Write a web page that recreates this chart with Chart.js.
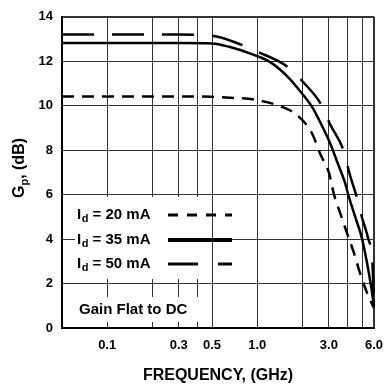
<!DOCTYPE html>
<html>
<head>
<meta charset="utf-8">
<script src="https://cdn.jsdelivr.net/npm/chart.js@4.4.1/dist/chart.umd.min.js"></script>
<style>
  html, body { margin: 0; padding: 0; background: #fff; }
  .wrap { position: relative; width: 386px; height: 385px; }
</style>
</head>
<body>
<div class="wrap"><canvas id="gainChart"></canvas></div>
<script>
// frequency (GHz) and power gain (dB)
const freq20 = [0.05, 0.3, 0.5, 0.7, 0.95, 1.39, 1.84, 2.32, 2.64, 3.0, 3.25, 3.6, 3.95, 4.4, 4.85, 5.45, 6.0];
const gain20 = [10.42, 10.42, 10.4, 10.35, 10.28, 10.0, 9.58, 8.75, 7.8, 7.0, 6.0, 5.1, 4.3, 3.4, 2.45, 1.5, 0.9];

const freq35 = [0.05, 0.3, 0.5, 0.65, 0.94, 1.22, 1.61, 2.0, 2.32, 2.7, 3.08, 3.43, 3.83, 4.1, 4.55, 5.0, 5.7, 6.0];
const gain35 = [12.82, 12.82, 12.8, 12.65, 12.3, 11.96, 11.28, 10.53, 9.95, 9.1, 8.27, 7.43, 6.57, 5.85, 4.9, 4.0, 2.0, 1.0];

const freq50 = [0.05, 0.3, 0.5, 0.78, 1.03, 1.61, 2.0, 2.7, 3.04, 3.8, 4.1, 4.6, 5.0, 5.5, 5.85, 6.0];
const gain50 = [13.2, 13.2, 13.15, 12.75, 12.4, 11.73, 11.1, 10.0, 9.2, 7.9, 7.0, 5.9, 4.95, 4.0, 3.0, 1.0];

const seriesNames = ['20 mA', '35 mA', '50 mA'];

// axis stuff
const gridFreqs = [0.1, 0.2, 0.3, 0.4, 0.5, 1, 2, 3, 4, 5, 6];
const labelFreqs = [0.1, 0.3, 0.5, 1, 3, 6];
const freqLabels = ['0.1', '0.3', '0.5', '1.0', '3.0', '6.0'];

const FONT = '"Liberation Sans", Arial, Helvetica, sans-serif';

function toPoints(xs, ys) {
  return xs.map((x, i) => ({ x: x, y: ys[i] }));
}

// legend box, note and y title drawn by hand (subscripts)
const notes = {
  id: 'notes',
  beforeDatasetsDraw(chart) {
    const ctx = chart.ctx;
    ctx.save();
    ctx.fillStyle = '#fff';
    ctx.fillRect(75, 197, 133, 82);
    ctx.fillRect(75, 297, 133, 25);
    ctx.restore();
  },
  afterDatasetsDraw(chart) {
    const ctx = chart.ctx;
    const rows = [215, 240, 264];
    ctx.save();
    ctx.fillStyle = '#000';
    ctx.strokeStyle = '#000';
    ctx.textBaseline = 'middle';

    chart.data.datasets.forEach((ds, i) => {
      const y = rows[i];
      let x = 77;
      ctx.font = 'bold 15px ' + FONT;
      ctx.fillText('I', x, y);
      x += ctx.measureText('I').width + 0.5;
      ctx.font = 'bold 11px ' + FONT;
      ctx.fillText('d', x, y + 4);
      x += ctx.measureText('d').width;
      ctx.font = 'bold 15px ' + FONT;
      ctx.fillText(' = ' + seriesNames[i], x, y);

      ctx.beginPath();
      ctx.setLineDash(ds.legendDash);
      ctx.lineWidth = ds.legendWidth;
      ctx.moveTo(168, y);
      ctx.lineTo(232, y);
      ctx.stroke();
    });
    ctx.setLineDash([]);

    ctx.font = 'bold 15px ' + FONT;
    ctx.fillText('Gain Flat to DC', 79, 310);

    // G_p, (dB) rotated
    ctx.translate(20, 168);
    ctx.rotate(-Math.PI / 2);
    ctx.font = 'bold 16px ' + FONT;
    const wG = ctx.measureText('G').width;
    const wRest = ctx.measureText(', (dB)').width;
    ctx.font = 'bold 11px ' + FONT;
    const wP = ctx.measureText('p').width;
    let tx = -(wG + wP + wRest) / 2;
    ctx.font = 'bold 16px ' + FONT;
    ctx.fillText('G', tx, 0);
    tx += wG;
    ctx.font = 'bold 11px ' + FONT;
    ctx.fillText('p', tx, 5);
    tx += wP;
    ctx.font = 'bold 16px ' + FONT;
    ctx.fillText(', (dB)', tx, 0);
    ctx.restore();
  }
};

const ctx = document.getElementById('gainChart').getContext('2d');

new Chart(ctx, {
  type: 'scatter',
  data: {
    datasets: [
      {
        label: seriesNames[0],
        data: toPoints(freq20, gain20),
        borderDash: [12, 8],
        legendDash: [10, 9],
        legendWidth: 3,
      },
      {
        label: seriesNames[1],
        data: toPoints(freq35, gain35),
        borderDash: [],
        legendDash: [],
        legendWidth: 4,
      },
      {
        label: seriesNames[2],
        data: toPoints(freq50, gain50),
        borderDash: [32, 18],
        legendDash: [30, 20],
        legendWidth: 3,
      }
    ].map(ds => Object.assign(ds, {
      showLine: true,
      borderColor: '#000',
      backgroundColor: '#000',
      borderWidth: 2.5,
      pointRadius: 0,
      fill: false,
      cubicInterpolationMode: 'monotone',
      clip: false
    }))
  },
  options: {
    responsive: true,
    maintainAspectRatio: false,
    animation: false,
    layout: { padding: { top: 15, right: 12, left: 0, bottom: 0 } },
    plugins: {
      legend: { display: false },
      tooltip: { enabled: false }
    },
    scales: {
      x: {
        type: 'logarithmic',
        min: 0.05,
        max: 6,
        afterFit: s => {
          s.height = 57;
          s.paddingLeft = 0;
          s.paddingRight = 0;
        },
        afterBuildTicks: s => { s.ticks = gridFreqs.map(v => ({ value: v })); },
        grid: {
          color: '#333',
          lineWidth: c => (c.tick && c.tick.value === 6 ? 2 : 1),
          drawTicks: false
        },
        border: { display: true, color: '#000', width: 2 },
        ticks: {
          autoSkip: false,
          maxRotation: 0,
          padding: 10,
          color: '#000',
          font: { family: FONT, size: 13, weight: 'bold' },
          callback: v => {
            const i = labelFreqs.indexOf(v);
            return i >= 0 ? freqLabels[i] : '';
          }
        },
        title: {
          display: true,
          text: 'FREQUENCY, (GHz)',
          color: '#000',
          font: { family: FONT, size: 16, weight: 'bold' },
          padding: { top: 0, bottom: 0 }
        }
      },
      y: {
        min: 0,
        max: 14,
        afterFit: s => { s.width = 62; },
        grid: {
          color: '#333',
          lineWidth: c => (c.tick && c.tick.value === 14 ? 2 : 1),
          drawTicks: false
        },
        border: { display: true, color: '#000', width: 2 },
        ticks: {
          stepSize: 2,
          padding: 9,
          color: '#000',
          font: { family: FONT, size: 13, weight: 'bold' }
        }
      }
    }
  },
  plugins: [notes]
});
</script>
</body>
</html>
